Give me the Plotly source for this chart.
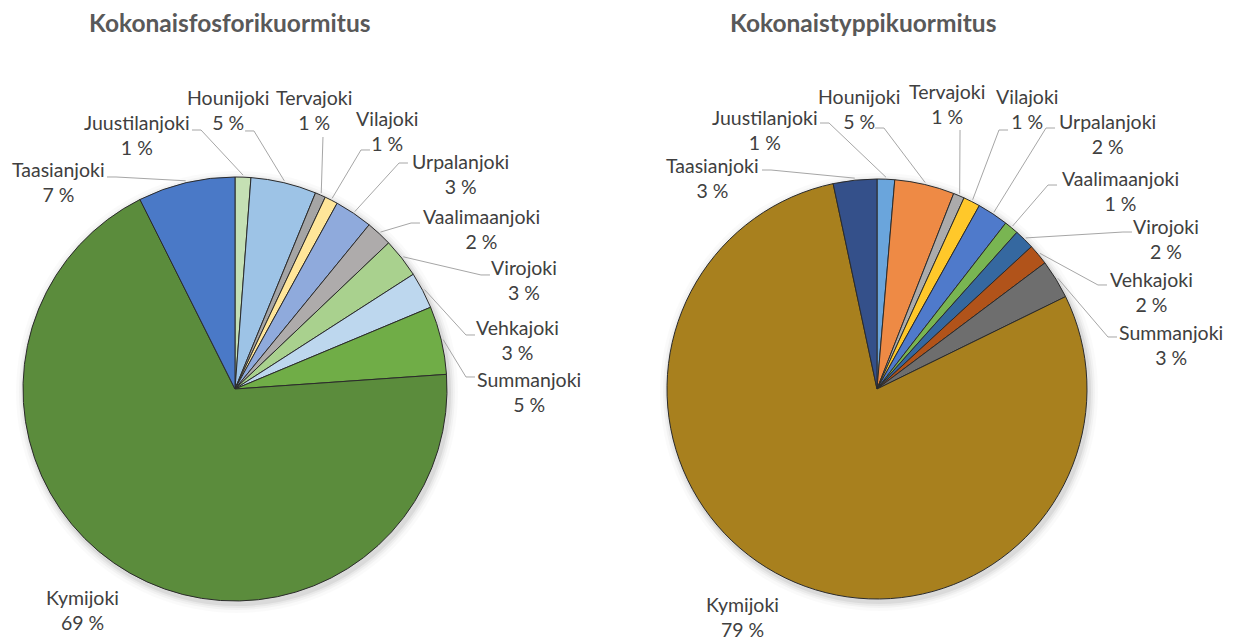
import math
import plotly.graph_objects as go

# River basins, in the order Excel draws them (clockwise from 12 o'clock)
rivers = ['Juustilanjoki', 'Hounijoki', 'Tervajoki', 'Vilajoki', 'Urpalanjoki',
          'Vaalimaanjoki', 'Virojoki', 'Vehkajoki', 'Summanjoki', 'Kymijoki', 'Taasianjoki']

# Share of load (%)
phosphorus = [1.2, 5.0, 0.8, 1.0, 2.9, 2.0, 3.0, 2.8, 5.2, 68.7, 7.4]
nitrogen = [1.35, 4.6, 0.85, 1.3, 2.4, 1.1, 1.55, 1.6, 3.0, 78.9, 3.35]

titles = ['Kokonaisfosforikuormitus', 'Kokonaistyppikuormitus']

colors_p = ['#C5E0B4', '#9DC3E6', '#A5A5A5', '#FFE699', '#8FAADC', '#AEABAB',
            '#A9D18E', '#BDD7EE', '#70AD47', '#5B8C3C', '#4A79C7']
colors_n = ['#6AA5DC', '#EE8A45', '#ABABAB', '#FFC82A', '#4F7ACB', '#79B552',
            '#3568A0', '#B1531A', '#6E6E6E', '#A8801E', '#34508A']

W, H = 1237, 642

# pie placement in pixels: centre x, centre y, radius
pie_boxes = [(235, 389, 212), (877, 389, 210)]
title_pos = [(230, 22), (863, 22)]

# label text centre (x, y), leader attach point (x, y), elbow direction
labels_p = {
    'Juustilanjoki': (137, 135, 192, 130, 1),
    'Hounijoki': (228, 110, 245, 131, 1),
    'Tervajoki': (314, 110, 323, 137, 0),
    'Vilajoki': (387, 131, 370, 150, -1),
    'Urpalanjoki': (460, 174, 408, 163, -1),
    'Vaalimaanjoki': (481, 229, 420, 223, -1),
    'Virojoki': (524, 280, 490, 275, -1),
    'Vehkajoki': (517, 340, 475, 335, -1),
    'Summanjoki': (529, 392, 475, 377, -1),
    'Kymijoki': (82, 610, None, None, 0),
    'Taasianjoki': (58, 182, 107, 177, 1),
}
labels_n = {
    'Juustilanjoki': (765, 130, 820, 123, 1),
    'Hounijoki': (859, 109, 875, 128, 1),
    'Tervajoki': (947, 104, 960, 130, 0),
    'Vilajoki': (1027, 109, 1008, 130, -1),
    'Urpalanjoki': (1107, 134, 1055, 128, -1),
    'Vaalimaanjoki': (1120, 191, 1057, 185, -1),
    'Virojoki': (1166, 239, 1132, 232, -1),
    'Vehkajoki': (1151, 292, 1107, 285, -1),
    'Summanjoki': (1171, 345, 1117, 337, -1),
    'Kymijoki': (742, 617, None, None, 0),
    'Taasianjoki': (712, 178, 762, 170, 1),
}


def px(x):
    return x / W


def py(y):
    return 1 - y / H


fig = go.Figure()
annotations = []
shapes = []

for values, colors, (cx, cy, r), title, tpos, lab in zip(
        [phosphorus, nitrogen], [colors_p, colors_n], pie_boxes, titles,
        title_pos, [labels_p, labels_n]):
    # soft shadow round the pie
    for grow, alpha in [(9, 0.02), (6, 0.03), (4, 0.04), (2, 0.06)]:
        shapes.append(dict(type='circle', xref='paper', yref='paper', layer='below',
                           x0=px(cx - r - grow + 2), x1=px(cx + r + grow + 2),
                           y0=py(cy + r + grow + 3), y1=py(cy - r - grow + 3),
                           fillcolor='rgba(0,0,0,%.2f)' % alpha, line=dict(width=0)))

    fig.add_trace(go.Pie(
        labels=rivers, values=values, sort=False, direction='clockwise', rotation=0,
        marker=dict(colors=colors, line=dict(color='#2b2b2b', width=1)),
        textinfo='none', hoverinfo='label+percent', showlegend=False,
        domain=dict(x=[px(cx - r), px(cx + r)], y=[py(cy + r), py(cy - r)]),
    ))
    annotations.append(dict(
        x=px(tpos[0]), y=py(tpos[1]), xref='paper', yref='paper', showarrow=False,
        text='<b>' + title + '</b>', xanchor='center', yanchor='middle',
        font=dict(family='Lato', size=24.5, color='#595959')))

    total = sum(values)
    cum = 0
    for name, v in zip(rivers, values):
        mid = (cum + v / 2) / total
        cum += v
        pct = round(v / total * 100)
        tx, ty, ax, ay, d = lab[name]
        annotations.append(dict(
            x=px(tx), y=py(ty), xref='paper', yref='paper', showarrow=False,
            text='%s<br>%d %%' % (name, pct), xanchor='center', yanchor='middle',
            font=dict(family='Lato', size=19.5, color='#404040')))
        if ax is None:
            continue
        ang = mid * 2 * math.pi
        ex = cx + (r + 2) * math.sin(ang)
        ey = cy - (r + 2) * math.cos(ang)
        pts = [(ax, ay)]
        if d:
            pts.append((ax + 9 * d, ay))
        pts.append((ex, ey))
        path = 'M ' + ' L '.join('%.4f,%.4f' % (px(a), py(b)) for a, b in pts)
        shapes.append(dict(type='path', path=path, xref='paper', yref='paper',
                           line=dict(color='#A6A6A6', width=1)))

fig.update_layout(
    width=W, height=H, autosize=False,
    margin=dict(l=0, r=0, t=0, b=0),
    paper_bgcolor='white', plot_bgcolor='white',
    annotations=annotations, shapes=shapes,
)

fig.write_html("out.html", config={'displayModeBar': False},
               post_script="document.body.style.margin='0';")
